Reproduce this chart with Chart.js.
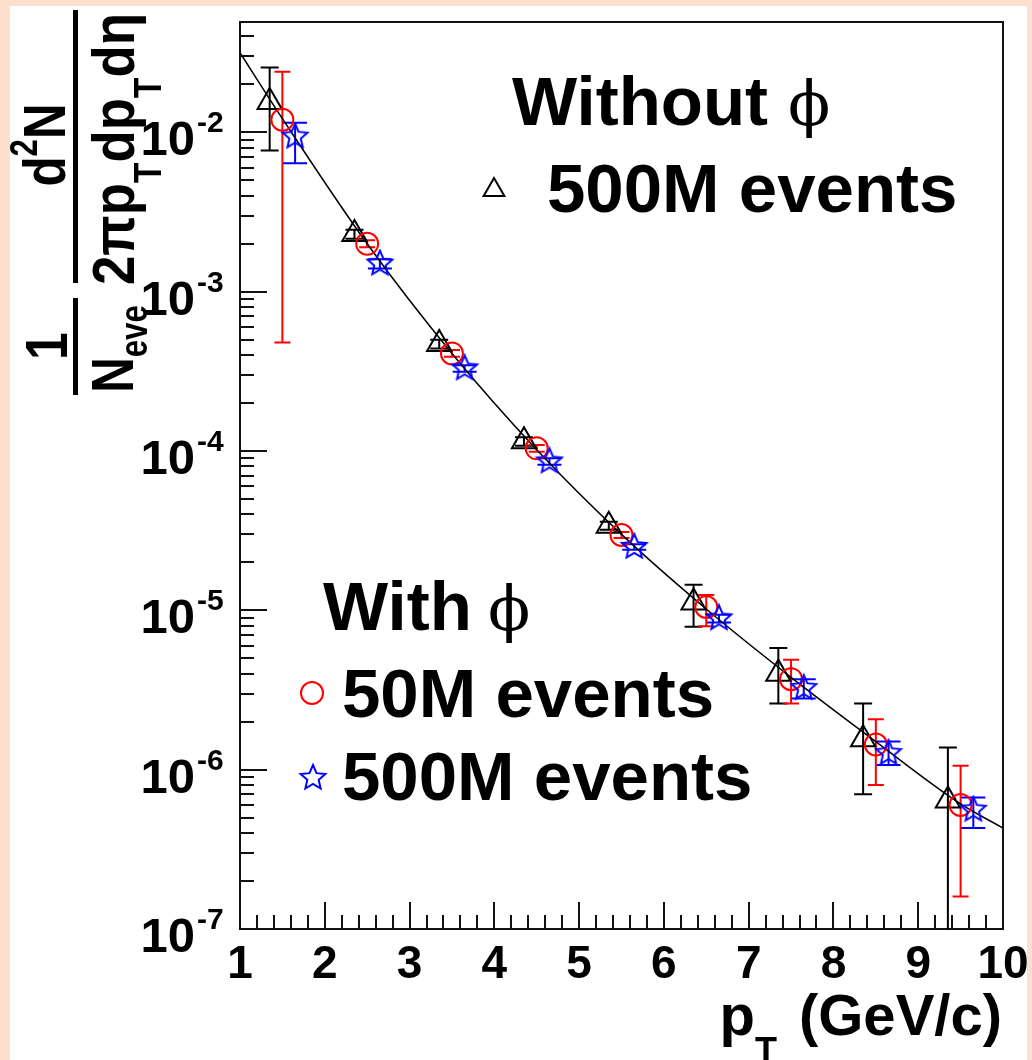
<!DOCTYPE html>
<html>
<head>
<meta charset="utf-8">
<script src="https://cdn.jsdelivr.net/npm/chart.js@4.4.1/dist/chart.umd.min.js"></script>
<style>
  html, body { margin: 0; padding: 0; background: #fddfcb; }
  #wrap { position: absolute; left: 10px; top: 6px; width: 1017px; height: 1054px; background: #fff; }
</style>
</head>
<body>
<div id="wrap"><canvas id="myChart" width="1017" height="1054"></canvas></div>
<script>
// pT bins (GeV/c), each series drawn slightly shifted inside the bin
const blackX = [1.35, 2.35, 3.35, 4.35, 5.35, 6.35, 7.35, 8.35, 9.35];
const redX   = [1.5, 2.5, 3.5, 4.5, 5.5, 6.5, 7.5, 8.5, 9.5];
const blueX  = [1.65, 2.65, 3.65, 4.65, 5.65, 6.65, 7.65, 8.65, 9.65];

// without phi, 500M events (open triangles)
const blackY  = [1.55e-2, 2.3e-3, 4.7e-4, 1.15e-4, 3.4e-5, 1.12e-5, 4.0e-6, 1.55e-6, 6.4e-7];
const blackHi = [2.55e-2, 2.45e-3, 5.0e-4, 1.22e-4, 3.6e-5, 1.45e-5, 5.8e-6, 2.6e-6, 1.38e-6];
const blackLo = [7.7e-3, 2.15e-3, 4.4e-4, 1.08e-4, 3.2e-5, 7.9e-6, 2.6e-6, 7.0e-7, 1e-9];

// with phi, 50M events (open circles)
const redY  = [1.2e-2, 2.0e-3, 4.1e-4, 1.04e-4, 2.97e-5, 1.05e-5, 3.7e-6, 1.44e-6, 6.0e-7];
const redHi = [2.4e-2, 2.1e-3, 4.3e-4, 1.09e-4, 3.1e-5, 1.25e-5, 4.9e-6, 2.07e-6, 1.06e-6];
const redLo = [4.8e-4, 1.9e-3, 3.9e-4, 0.99e-4, 2.85e-5, 7.95e-6, 2.6e-6, 8.0e-7, 1.6e-7];

// with phi, 500M events (open stars)
const blueY  = [9.4e-3, 1.5e-3, 3.3e-4, 8.6e-5, 2.5e-5, 8.9e-6, 3.25e-6, 1.27e-6, 5.6e-7];
const blueHi = [1.15e-2, 1.6e-3, 3.45e-4, 9.0e-5, 2.6e-5, 9.4e-6, 3.7e-6, 1.5e-6, 6.7e-7];
const blueLo = [6.4e-3, 1.4e-3, 3.15e-4, 8.2e-5, 2.4e-5, 8.4e-6, 2.8e-6, 1.07e-6, 4.3e-7];

// fitted curve
const fitX = [1.0, 1.5, 2.5, 3.5, 4.5, 5.5, 6.5, 7.5, 8.5, 9.5, 10.0];
const fitY = [3.16e-2, 1.22e-2, 2.0e-3, 4.1e-4, 1.02e-4, 3.0e-5, 1.02e-5, 3.8e-6, 1.5e-6, 6.1e-7, 4.3e-7];

// axis ticks
const xTickLabels = ['1', '2', '3', '4', '5', '6', '7', '8', '9', '10'];
const yTickExps = [-7, -6, -5, -4, -3, -2];

const SANS = '"Liberation Sans", Arial, Helvetica, sans-serif';
const PHI_FONT = '"DejaVu Serif", "Liberation Serif", serif';

function pts(xs, ys) {
  return xs.map((x, i) => ({ x: x, y: ys[i] }));
}

function makeStar(color, R, r) {
  const c = document.createElement('canvas');
  const s = Math.ceil(2 * R + 4);
  c.width = s; c.height = s;
  const g = c.getContext('2d');
  g.strokeStyle = color;
  g.lineWidth = 2;
  g.beginPath();
  for (let k = 0; k < 10; k++) {
    const a = -Math.PI / 2 + k * Math.PI / 5;
    const rr = k % 2 ? r : R;
    const px = s / 2 + rr * Math.cos(a), py = s / 2 + rr * Math.sin(a);
    if (k) g.lineTo(px, py); else g.moveTo(px, py);
  }
  g.closePath();
  g.stroke();
  return c;
}
const blueStar = makeStar('#0000ff', 13, 6);

function openTriangle(ctx, x, y, r) {
  ctx.beginPath();
  for (let k = 0; k < 3; k++) {
    const a = k * 2 * Math.PI / 3;
    const px = x + Math.sin(a) * r, py = y - Math.cos(a) * r;
    if (k) ctx.lineTo(px, py); else ctx.moveTo(px, py);
  }
  ctx.closePath();
  ctx.stroke();
}

// error bars, frame and ROOT-style inner ticks
const rootAxes = {
  id: 'rootAxes',
  beforeDatasetsDraw(chart) {
    const ctx = chart.ctx;
    const a = chart.chartArea;
    const xs = chart.scales.x, ys = chart.scales.y;
    ctx.save();
    ctx.strokeStyle = '#111';
    ctx.lineWidth = 2;
    ctx.strokeRect(a.left, a.top, a.right - a.left, a.bottom - a.top);
    ctx.beginPath();
    for (let v = 1; v <= 10.001; v += 0.2) {
      const px = Math.round(xs.getPixelForValue(v));
      const major = Math.abs(v - Math.round(v)) < 0.01;
      ctx.moveTo(px, a.bottom);
      ctx.lineTo(px, a.bottom - (major ? 27 : 14));
    }
    for (let e = -7; e <= -2; e++) {
      for (let m = 1; m <= 9; m++) {
        const val = m * Math.pow(10, e);
        if (val > ys.max) continue;
        const py = Math.round(ys.getPixelForValue(val));
        ctx.moveTo(a.left, py);
        ctx.lineTo(a.left + (m === 1 ? 27 : 14), py);
      }
    }
    ctx.stroke();

    // error bars
    ctx.beginPath();
    ctx.rect(a.left, a.top, a.right - a.left, a.bottom - a.top);
    ctx.clip();
    chart.data.datasets.forEach((ds) => {
      if (!ds.errLo) return;
      ctx.strokeStyle = ds.borderColor;
      ctx.lineWidth = 2;
      ctx.beginPath();
      ds.data.forEach((p, i) => {
        const px = xs.getPixelForValue(p.x);
        const top = ys.getPixelForValue(ds.errHi[i]);
        const bot = ys.getPixelForValue(ds.errLo[i]);
        ctx.moveTo(px, top); ctx.lineTo(px, bot);
        ctx.moveTo(px - ds.cap, top); ctx.lineTo(px + ds.cap, top);
        ctx.moveTo(px - ds.cap, bot); ctx.lineTo(px + ds.cap, bot);
      });
      ctx.stroke();
    });
    ctx.restore();
  },
  afterDraw(chart) {
    const ctx = chart.ctx;
    const xs = chart.scales.x, ys = chart.scales.y;
    ctx.save();
    ctx.fillStyle = '#000';
    ctx.textBaseline = 'alphabetic';

    // x tick labels
    ctx.font = 'bold 46px ' + SANS;
    ctx.textAlign = 'center';
    xTickLabels.forEach((t) => {
      ctx.fillText(t, xs.getPixelForValue(Number(t)), 972);
    });

    // y tick labels 10^n
    yTickExps.forEach((e) => {
      const py = ys.getPixelForValue(Math.pow(10, e));
      ctx.font = 'bold 49px ' + SANS;
      ctx.textAlign = 'right';
      ctx.fillText('10', 185, py + 23);
      ctx.font = 'bold 30px ' + SANS;
      ctx.textAlign = 'left';
      ctx.fillText(String(e), 187, py);
    });

    // x title
    ctx.textAlign = 'left';
    ctx.font = 'bold 58px ' + SANS;
    const wp = ctx.measureText('p').width;
    const rest = '(GeV/c)';
    const wr = ctx.measureText(rest).width;
    ctx.font = 'bold 36px ' + SANS;
    const wt = ctx.measureText('T').width;
    const gap = 22;
    const x0 = 992 - wp - wt - gap - wr;
    ctx.font = 'bold 58px ' + SANS;
    ctx.fillText('p', x0, 1029);
    ctx.fillText(rest, x0 + wp + wt + gap, 1029);
    ctx.font = 'bold 36px ' + SANS;
    ctx.fillText('T', x0 + wp, 1057);

    // y title, rotated
    ctx.save();
    ctx.rotate(-Math.PI / 2);
    const sx = 0.82;
    ctx.scale(sx, 1);
    const k = 1 / sx;
    const big = 'bold 60px ' + SANS, small = 'bold 38px ' + SANS;
    // 1 / N_eve
    ctx.font = big;
    ctx.textAlign = 'center';
    ctx.fillText('1', -340 * k, 57);
    ctx.textAlign = 'left';
    const wN = ctx.measureText('N').width;
    ctx.font = small;
    const wEve = ctx.measureText('eve').width;
    let u = -343 * k - (wN + wEve) / 2;
    ctx.font = big; ctx.fillText('N', u, 123);
    ctx.font = small; ctx.fillText('eve', u + wN, 137);
    ctx.fillRect(-389 * k, 63, 97 * k, 5);
    // d2N / (2 pi pT dpT d eta)
    ctx.font = big;
    const wd = ctx.measureText('d').width;
    const wN2 = ctx.measureText('N').width;
    ctx.font = small;
    const w2 = ctx.measureText('2').width;
    u = -139 * k - (wd + w2 + wN2) / 2;
    ctx.font = big; ctx.fillText('d', u, 55);
    ctx.font = small; ctx.fillText('2', u + wd, 27);
    ctx.font = big; ctx.fillText('N', u + wd + w2, 55);
    ctx.fillRect(-277 * k, 63, 273 * k, 5);
    ctx.restore();

    // denominator, slightly wider than the rest
    ctx.save();
    ctx.rotate(-Math.PI / 2);
    const sd = 0.88;
    ctx.scale(sd, 1);
    const parts = [['2\u03c0p', big, 124], ['T', small, 151], ['dp', big, 124], ['T', small, 151], ['d\u03b7', big, 124]];
    u = -279 / sd;
    parts.forEach((pp) => {
      ctx.font = pp[1];
      ctx.fillText(pp[0], u, pp[2]);
      u += ctx.measureText(pp[0]).width;
    });
    ctx.restore();

    // legend
    const leg = 'bold 69px ' + SANS, phi = '62px ' + PHI_FONT;
    ctx.textAlign = 'left';
    ctx.font = leg; ctx.fillText('Without', 502, 119);
    ctx.font = phi; ctx.fillText('\u03d5', 778, 119);
    ctx.strokeStyle = '#000';
    ctx.lineWidth = 2;
    openTriangle(ctx, 484, 184, 12);
    ctx.font = leg; ctx.fillText('500M events', 537, 206);

    ctx.font = leg; ctx.fillText('With', 313, 624);
    ctx.font = phi; ctx.fillText('\u03d5', 478, 624);
    ctx.strokeStyle = '#ff0000';
    ctx.beginPath();
    ctx.arc(302, 687, 11, 0, Math.PI * 2);
    ctx.stroke();
    ctx.font = leg; ctx.fillText('50M events', 332, 711);
    ctx.drawImage(blueStar, 303 - blueStar.width / 2, 772 - blueStar.height / 2);
    ctx.fillText('500M events', 332, 794);
    ctx.restore();
  }
};

const data = {
  datasets: [{
    type: 'line',
    label: 'fit',
    data: pts(fitX, fitY),
    borderColor: '#000',
    borderWidth: 1.5,
    pointRadius: 0,
    cubicInterpolationMode: 'monotone',
    order: 4,
  }, {
    type: 'scatter',
    label: 'Without phi 500M events',
    data: pts(blackX, blackY),
    errLo: blackLo, errHi: blackHi, cap: 9,
    pointStyle: 'triangle',
    pointRadius: 14,
    borderColor: '#000000',
    backgroundColor: 'rgba(0,0,0,0)',
    borderWidth: 2,
    order: 3,
  }, {
    type: 'scatter',
    label: 'With phi 50M events',
    data: pts(redX, redY),
    errLo: redLo, errHi: redHi, cap: 8,
    pointStyle: 'circle',
    pointRadius: 11,
    borderColor: '#ff0000',
    backgroundColor: 'rgba(0,0,0,0)',
    borderWidth: 2,
    order: 2,
  }, {
    type: 'scatter',
    label: 'With phi 500M events',
    data: pts(blueX, blueY),
    errLo: blueLo, errHi: blueHi, cap: 12,
    pointStyle: blueStar,
    pointRadius: 13,
    borderColor: '#0000ff',
    backgroundColor: 'rgba(0,0,0,0)',
    borderWidth: 2,
    order: 1,
  }]
};

const config = {
  type: 'scatter',
  data: data,
  options: {
    responsive: false,
    animation: false,
    layout: { padding: { left: 230, top: 11, right: 24, bottom: 131 } },
    plugins: { legend: { display: false }, tooltip: { enabled: false } },
    scales: {
      x: { type: 'linear', min: 1, max: 10, display: false },
      y: { type: 'logarithmic', min: 1e-7, max: 0.0493, display: false },
    }
  },
  plugins: [rootAxes],
};

const myChart = new Chart(document.getElementById('myChart'), config);
</script>
</body>
</html>
